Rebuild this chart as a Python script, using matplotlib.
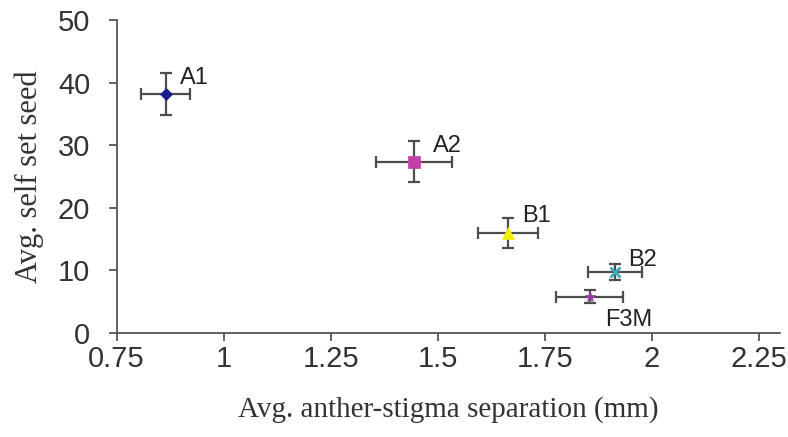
import matplotlib
matplotlib.use("Agg")
import matplotlib.pyplot as plt

# ── Data ──────────────────────────────────────────────────────────
names   = ["A1", "A2", "B1", "B2", "F3M"]
sep     = [0.865, 1.445, 1.665, 1.915, 1.855]   # avg anther-stigma separation (mm)
sep_err = [0.057, 0.088, 0.070, 0.063, 0.079]
seed    = [38.2, 27.4, 16.0, 9.7, 5.8]          # avg self set seed
seed_err = [3.3, 3.3, 2.4, 1.3, 1.0]

markers = ["D", "s", "^", "x", "*"]
colors  = ["#1c1c8c", "#c23fa6", "#f2ee00", "#3fa8b8", "#9a3aa8"]
msizes  = [6, 9, 9, 7, 8]
# label offsets in pixels from the marker
label_off = [(14, 10, "baseline"), (19, 10, "baseline"), (14, 11, "baseline"),
             (13, 6, "baseline"), (15, -12, "top")]

plt.rcParams["font.family"] = ["Liberation Sans", "DejaVu Sans"]

fig = plt.figure(figsize=(7.88, 4.37), dpi=100)
ax = fig.add_axes([0.148, 0.238, 0.842, 0.716])

for i in range(len(names)):
    ax.errorbar(sep[i], seed[i], xerr=sep_err[i], yerr=seed_err[i],
                fmt="none", ecolor="#4d4d4d", elinewidth=1.6, capsize=4,
                capthick=1.6, zorder=2)
    ax.plot(sep[i], seed[i], marker=markers[i], color=colors[i],
            markersize=msizes[i], markeredgewidth=2 if markers[i] == "x" else 0.5,
            linestyle="none", zorder=3)
    dx, dy, va = label_off[i]
    ax.annotate(names[i], (sep[i], seed[i]), textcoords="offset pixels",
                xytext=(dx, dy), va=va, fontsize=17, color="#222222")

ax.set_xlim(0.75, 2.30)
ax.set_ylim(0, 50)
ax.set_xticks([0.75, 1, 1.25, 1.5, 1.75, 2, 2.25])
ax.set_xticklabels(["0.75", "1", "1.25", "1.5", "1.75", "2", "2.25"])
ax.set_yticks([0, 10, 20, 30, 40, 50])

for s in ["top", "right"]:
    ax.spines[s].set_visible(False)
for s in ["left", "bottom"]:
    ax.spines[s].set_color("#555555")
    ax.spines[s].set_linewidth(1.3)
ax.tick_params(direction="out", length=6, width=1.3, color="#555555",
               labelsize=21, labelcolor="#333333")
ax.tick_params(axis="x", pad=3)
ax.tick_params(axis="y", pad=13)

ax.set_xlabel("Avg. anther-stigma separation (mm)", family="Liberation Serif",
              fontsize=21, color="#333333", labelpad=16)
ax.set_ylabel("Avg. self set seed", family="Liberation Serif",
              fontsize=22, color="#333333", labelpad=10)

fig.savefig("out.png", dpi=100)
